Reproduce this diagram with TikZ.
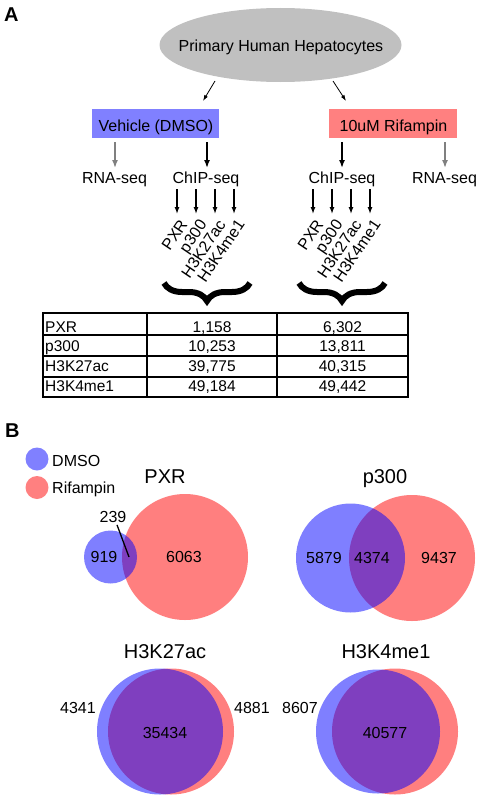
\documentclass[tikz,border=0pt]{standalone}
\usepackage{fontspec}
\setmainfont{Liberation Sans}
\usetikzlibrary{shapes.geometric,arrows.meta,decorations.pathreplacing}
\definecolor{dmso}{RGB}{128,128,255}
\definecolor{rif}{RGB}{255,128,128}
\definecolor{ellg}{RGB}{192,192,192}
\definecolor{arrg}{RGB}{128,128,128}
\begin{document}
\begin{tikzpicture}[x=1pt,y=-1pt,
  txt/.style={inner sep=0pt,font=\fontsize{16}{19}\selectfont},
  tabtxt/.style={inner sep=0pt,font=\fontsize{15.5}{18}\selectfont,anchor=base},
  title/.style={inner sep=0pt,font=\fontsize{20}{24}\selectfont,anchor=base},
  num/.style={inner sep=0pt,font=\fontsize{16}{19}\selectfont},
  panel/.style={inner sep=0pt,font=\bfseries\fontsize{20}{24}\selectfont,anchor=base west},
  rot/.style={inner sep=0pt,font=\fontsize{16}{19}\selectfont,rotate=56,anchor=north east},
  thinarrow/.style={-{Latex[length=6pt,width=4pt]},line width=0.8pt},
  midarrow/.style={-{Latex[length=8pt,width=6pt]},line width=1.5pt},
  smallarrow/.style={-{Latex[length=7pt,width=5pt]},line width=1.3pt},
  tabline/.style={line width=2pt},
  bracestyle/.style={decorate,decoration={brace,mirror,amplitude=18pt},line width=6pt}
]
\useasboundingbox (0,0) rectangle (481,800);

% Panel A
\node[panel] (pA) at (4,22) {A};
\node[ellipse,fill=ellg,minimum width=242pt,minimum height=74pt,inner sep=0pt] (phh) at (280.5,45) {};
\node[txt,anchor=base] (phht) at (281,52) {Primary Human Hepatocytes};

\node[fill=dmso,minimum width=127pt,minimum height=29pt,inner sep=0pt] (veh) at (155.5,123.5) {};
\node[txt,anchor=base] (veht) at (156,131) {Vehicle (DMSO)};
\node[fill=rif,minimum width=128pt,minimum height=29pt,inner sep=0pt] (rifb) at (393,123.5) {};
\node[txt,anchor=base] (rift) at (393.5,131) {10uM Rifampin};

\coordinate (a1s) at (215,81);
\coordinate (a1e) at (203,101);
\coordinate (a2s) at (333,81);
\coordinate (a2e) at (346,101);
\draw[thinarrow] (a1s) -- (a1e);
\draw[thinarrow] (a2s) -- (a2e);

\node[txt,anchor=base] (rna1) at (114.5,183) {RNA-seq};
\node[txt,anchor=base] (chip1) at (206,183) {ChIP-seq};
\node[txt,anchor=base] (chip2) at (342,183) {ChIP-seq};
\node[txt,anchor=base] (rna2) at (444.5,183) {RNA-seq};

\coordinate (g1s) at (115,142); \coordinate (g1e) at (115,168);
\coordinate (b1s) at (207,142); \coordinate (b1e) at (207,168);
\coordinate (b2s) at (342,142); \coordinate (b2e) at (342,168);
\coordinate (g2s) at (445,142); \coordinate (g2e) at (445,168);
\draw[midarrow,arrg] (g1s) -- (g1e);
\draw[midarrow] (b1s) -- (b1e);
\draw[midarrow] (b2s) -- (b2e);
\draw[midarrow,arrg] (g2s) -- (g2e);

% small arrows and rotated labels
\foreach \x/\t/\n in {177/PXR/l1,196/p300/l2,215/H3K27ac/l3,234/H3K4me1/l4,313/PXR/r1,332/p300/r2,351/H3K27ac/r3,370/H3K4me1/r4}{
  \coordinate (s\n) at (\x,189);
  \coordinate (e\n) at (\x,214);
  \draw[smallarrow] (s\n) -- (e\n);
  \node[rot] (\n) at (\x+2,218) {\t};
}

\coordinate (br1a) at (164,283);
\coordinate (br1b) at (250,283);
\coordinate (br2a) at (299,283);
\coordinate (br2b) at (385,283);
\draw[bracestyle] (br1a) -- (br1b);
\draw[bracestyle] (br2a) -- (br2b);

% table
\draw[tabline] (43,313) rectangle (408,397);
\draw[tabline] (147,313) -- (147,397);
\draw[tabline] (277,313) -- (277,397);
\draw[tabline] (43,335) -- (408,335);
\draw[tabline] (43,356) -- (408,356);
\draw[tabline] (43,377) -- (408,377);
\node[tabtxt,anchor=base west] (t11) at (45,332) {PXR};
\node[tabtxt,anchor=base west] (t21) at (45,351) {p300};
\node[tabtxt,anchor=base west] (t31) at (45,371) {H3K27ac};
\node[tabtxt,anchor=base west] (t41) at (45,391) {H3K4me1};
\node[tabtxt] (t12) at (212,332) {1,158};
\node[tabtxt] (t22) at (212,351) {10,253};
\node[tabtxt] (t32) at (212,371) {39,775};
\node[tabtxt] (t42) at (212,391) {49,184};
\node[tabtxt] (t13) at (342.5,332) {6,302};
\node[tabtxt] (t23) at (342.5,351) {13,811};
\node[tabtxt] (t33) at (342.5,371) {40,315};
\node[tabtxt] (t43) at (342.5,391) {49,442};

% Panel B
\node[panel] (pB) at (5,437) {B};
\fill[dmso] (37,459) circle (11.5pt);
\fill[rif] (37,487.5) circle (11.5pt);
\node[txt,anchor=base west] (legd) at (52,466) {DMSO};
\node[txt,anchor=base west] (legr) at (52,493) {Rifampin};

\node[title] (tpxr) at (165,483) {PXR};
\node[title] (tp300) at (385,483) {p300};
\node[title] (th27) at (165,658) {H3K27ac};
\node[title] (th4) at (386,658) {H3K4me1};

% PXR venn
\fill[red,fill opacity=0.5] (185,557) circle (63pt);
\fill[blue,fill opacity=0.5] (110.5,557) circle (26.5pt);
\node[num] (n919) at (104,557) {919};
\node[num] (n6063) at (184,557) {6063};
\node[num] (n239) at (113,517) {239};
\coordinate (p239) at (129,557);
\draw[line width=1.3pt] (n239.south) ++(4,2) -- (p239);

% p300 venn
\fill[red,fill opacity=0.5] (412,558) circle (63pt);
\fill[blue,fill opacity=0.5] (350.5,558) circle (54.5pt);
\node[num] (n5879) at (324,558) {5879};
\node[num] (n4374) at (372,558) {4374};
\node[num] (n9437) at (439,558) {9437};

% H3K27ac venn
\fill[red,fill opacity=0.5] (171,731.5) circle (63pt);
\fill[blue,fill opacity=0.5] (160,731.5) circle (63pt);
\node[num] (n4341) at (78,708) {4341};
\node[num] (n4881) at (252,708) {4881};
\node[num] (n35434) at (165,732.5) {35434};

% H3K4me1 venn
\fill[red,fill opacity=0.5] (395,731.5) circle (63pt);
\fill[blue,fill opacity=0.5] (378,731.5) circle (62pt);
\node[num] (n8607) at (300,708) {8607};
\node[num] (n40577) at (385,732.5) {40577};
\end{tikzpicture}
\end{document}
